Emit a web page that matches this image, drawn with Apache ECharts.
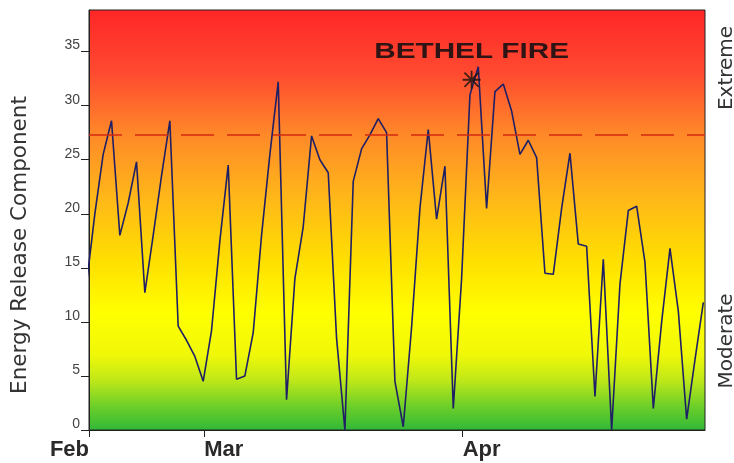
<!DOCTYPE html>
<html><head><meta charset="utf-8">
<script src="https://cdn.jsdelivr.net/npm/echarts@6/dist/echarts.min.js"></script>
<style>html,body{margin:0;padding:0;background:#fff}#c{width:734px;height:463px}</style>
</head><body><div id="c"></div>
<script>
// Daily Energy Release Component, one value per day starting mid-February (index 0)
const ercValues = [
  13.5, 20, 25.5, 28.6, 18, 21, 24.8, 12.7, 18, 23.5,
  28.6, 9.6, 8.3, 6.8, 4.5, 9.2, 17.5, 24.5, 4.7, 5.0,
  9, 18, 25.5, 32.2, 2.8, 14, 18.8, 27.2, 25, 23.8,
  8.5, 0, 23, 26, 27.3, 28.8, 27.5, 4.5, 0.3, 9.5,
  20.5, 27.8, 19.5, 24.4, 2, 14, 31, 33.6, 20.5, 31.3,
  32, 29.5, 25.5, 26.8, 25.2, 14.5, 14.4, 20.5, 25.6, 17.2,
  17, 3.1, 15.8, 0, 13.5, 20.3, 20.7, 15.5, 2, 10,
  16.8, 11, 1, 6.5, 11.8
];
// Month boundaries in the same day index units
const monthTickDays = [0.3, 14.12, 45.13];
const monthLabels = ['Feb', 'Mar', 'Apr'];
const xRange = [0.3, 74.2];
const yTicks = [0, 5, 10, 15, 20, 25, 30, 35];
const yMax = 38.85;
const thresholdERC = 27.3;
const fireDay = 46.2;
const fireERC = 32.4;
const fireName = 'BETHEL FIRE';
const yAxisTitle = 'Energy Release Component';
const bandLabels = ['Extreme', 'Moderate'];

const chart = echarts.init(document.getElementById('c'), null, {renderer: 'canvas'});
const asterisk = 'path://M0 9L20 9L20 11L0 11Z M9 0L11 0L11 20L9 20Z M1.4 2.8L2.8 1.4L18.6 17.2L17.2 18.6Z M17.2 1.4L18.6 2.8L2.8 18.6L1.4 17.2Z';

const bandGraphics = [
  {id: 'ext', type: 'text', x: 727, y: 68, rotation: Math.PI / 2,
   style: {text: bandLabels[0], font: '20px "DejaVu Sans"', fill: '#333', align: 'center', verticalAlign: 'middle'}},
  {id: 'mod', type: 'text', x: 727, y: 341, rotation: Math.PI / 2,
   style: {text: bandLabels[1], font: '20px "DejaVu Sans"', fill: '#333', align: 'center', verticalAlign: 'middle'}}
];

chart.setOption({
  animation: false,
  grid: {
    left: 89, right: 29, top: 10, bottom: 33,
    show: true,
    borderColor: '#222', borderWidth: 1,
    backgroundColor: new echarts.graphic.LinearGradient(0, 0, 0, 1, [
      {offset: 0, color: '#ff2626'},
      {offset: 0.15, color: '#ff4a30'},
      {offset: 0.3, color: '#ff8a28'},
      {offset: 0.45, color: '#ffb818'},
      {offset: 0.6, color: '#ffe000'},
      {offset: 0.72, color: '#ffff00'},
      {offset: 0.82, color: '#f0f808'},
      {offset: 0.88, color: '#c0e818'},
      {offset: 0.94, color: '#70d028'},
      {offset: 1, color: '#30b838'}
    ])
  },
  xAxis: {
    type: 'value', min: xRange[0], max: xRange[1],
    splitLine: {show: false},
    axisLine: {show: true, lineStyle: {color: '#222', width: 1}},
    axisTick: {show: true, inside: false, length: 7, customValues: monthTickDays, lineStyle: {color: '#222'}},
    axisLabel: {
      customValues: monthTickDays,
      formatter: v => monthLabels[monthTickDays.indexOf(v)] || '',
      align: 'left', alignMinLabel: 'right',
      margin: 9, fontSize: 22, fontWeight: 'bold',
      fontFamily: 'Liberation Sans', color: '#2a2a2a'
    }
  },
  yAxis: {
    type: 'value', min: 0, max: yMax,
    name: yAxisTitle, nameLocation: 'middle', nameGap: 58,
    nameTextStyle: {fontFamily: 'DejaVu Sans', fontSize: 21.5, color: '#333', padding: [0, 50, 0, 0]},
    splitLine: {show: false},
    axisLine: {show: true, lineStyle: {color: '#222', width: 1}},
    axisTick: {show: true, inside: false, length: 8, customValues: yTicks, lineStyle: {color: '#222'}},
    axisLabel: {
      customValues: yTicks,
      verticalAlign: 'bottom', margin: 9, fontSize: 14, lineHeight: 12,
      fontFamily: 'Liberation Sans', color: '#444'
    }
  },
  graphic: bandGraphics,
  series: [
    {
      type: 'line',
      data: ercValues.map((v, i) => [i, v]),
      showSymbol: false,
      clip: true,
      lineStyle: {color: '#1f1f66', width: 1.6},
      markLine: {
        silent: true, symbol: 'none',
        label: {show: false},
        lineStyle: {color: '#d42a10', type: [33, 13], width: 1.5},
        data: [{yAxis: thresholdERC}]
      },
      z: 3
    },
    {
      type: 'scatter',
      data: [[fireDay, fireERC]],
      symbol: asterisk, symbolSize: 18,
      itemStyle: {color: '#111'},
      z: 4
    }
  ]
});

// Fire annotation placed through the chart's own coordinate conversion
const firePx = chart.convertToPixel({gridIndex: 0}, [fireDay, fireERC]);
chart.setOption({
  graphic: bandGraphics.concat([{
    id: 'fire', type: 'text', x: firePx[0], y: firePx[1] - 27.5, scaleX: 1.35, z: 10,
    style: {text: fireName, font: 'bold 22px "Liberation Sans"', fill: '#2e1414', align: 'center', verticalAlign: 'middle'}
  }])
});
</script>
</body></html>
